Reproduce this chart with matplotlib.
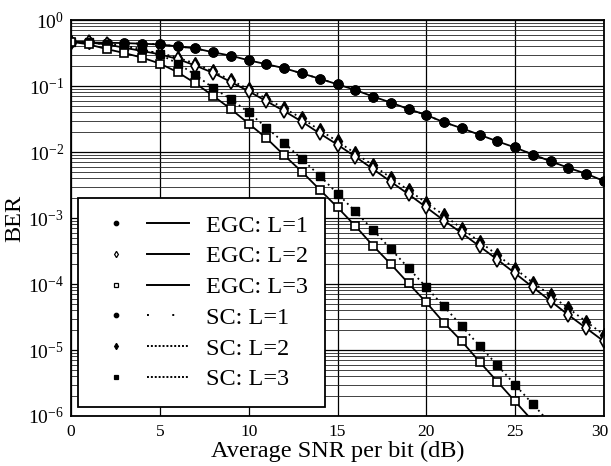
import matplotlib
matplotlib.use("Agg")
import matplotlib.pyplot as plt
import matplotlib.transforms as mtransforms
from matplotlib.lines import Line2D
from matplotlib.legend_handler import HandlerTuple
from matplotlib.ticker import LogLocator, NullFormatter

plt.rcParams['font.family'] = ['Liberation Serif', 'DejaVu Serif']
plt.rcParams['mathtext.fontset'] = 'custom'
plt.rcParams['mathtext.rm'] = 'Liberation Serif'
plt.rcParams['mathtext.it'] = 'Liberation Serif:italic'
plt.rcParams['mathtext.default'] = 'regular'

snr_db = list(range(0, 31))

ber_l1 = [4.68e-1, 4.57e-1, 4.52e-1, 4.47e-1, 4.37e-1, 4.27e-1, 3.98e-1, 3.72e-1,
          3.24e-1, 2.88e-1, 2.45e-1, 2.14e-1, 1.86e-1, 1.55e-1, 1.29e-1, 1.06e-1,
          8.71e-2, 6.92e-2, 5.62e-2, 4.47e-2, 3.63e-2, 2.82e-2, 2.29e-2, 1.82e-2,
          1.45e-2, 1.17e-2, 9.12e-3, 7.24e-3, 5.75e-3, 4.68e-3, 3.63e-3]

ber_egc_l2 = [4.68e-1, 4.57e-1, 4.27e-1, 3.80e-1, 3.39e-1, 3.02e-1, 2.57e-1, 2.04e-1,
              1.58e-1, 1.15e-1, 8.32e-2, 5.89e-2, 4.17e-2, 2.88e-2, 1.91e-2, 1.29e-2,
              8.51e-3, 5.50e-3, 3.55e-3, 2.29e-3, 1.45e-3, 9.12e-4, 5.89e-4, 3.72e-4,
              2.34e-4, 1.45e-4, 8.91e-5, 5.50e-5, 3.39e-5, 2.14e-5, 1.35e-5]

ber_sc_l2 = [4.68e-1, 4.57e-1, 4.27e-1, 3.89e-1, 3.47e-1, 3.16e-1, 2.69e-1, 2.19e-1,
             1.66e-1, 1.23e-1, 8.91e-2, 6.46e-2, 4.57e-2, 3.24e-2, 2.14e-2, 1.45e-2,
             9.55e-3, 6.31e-3, 4.07e-3, 2.63e-3, 1.70e-3, 1.10e-3, 6.92e-4, 4.37e-4,
             2.75e-4, 1.70e-4, 1.05e-4, 6.76e-5, 4.27e-5, 2.69e-5, 1.70e-5]

snr_db_egc_l3 = list(range(0, 27))
ber_egc_l3 = [4.68e-1, 4.27e-1, 3.63e-1, 3.16e-1, 2.69e-1, 2.19e-1, 1.62e-1, 1.10e-1,
              7.08e-2, 4.47e-2, 2.69e-2, 1.62e-2, 8.91e-3, 5.01e-3, 2.69e-3, 1.45e-3,
              7.59e-4, 3.80e-4, 2.00e-4, 1.02e-4, 5.25e-5, 2.57e-5, 1.35e-5, 6.61e-6,
              3.31e-6, 1.66e-6, 8.32e-7]

snr_db_sc_l3 = list(range(0, 28))
ber_sc_l3 = [4.68e-1, 4.57e-1, 4.37e-1, 4.07e-1, 3.63e-1, 3.02e-1, 2.19e-1, 1.48e-1,
             9.33e-2, 6.31e-2, 3.98e-2, 2.34e-2, 1.38e-2, 7.76e-3, 4.37e-3, 2.34e-3,
             1.26e-3, 6.61e-4, 3.39e-4, 1.74e-4, 8.91e-5, 4.57e-5, 2.29e-5, 1.15e-5,
             5.89e-6, 2.95e-6, 1.51e-6, 7.59e-7]

labels = ["EGC: L=1", "EGC: L=2", "EGC: L=3", "SC: L=1", "SC: L=2", "SC: L=3"]
xticks = [0, 5, 10, 15, 20, 25, 30]

fig = plt.figure(figsize=(6.11, 4.66), dpi=100)
ax = fig.add_axes([71/611, 1-416/466, 533/611, 396/466])

ax.set_yscale('log')
ax.set_xlim(0, 30)
ax.set_ylim(1e-6, 1)

# grid
ax.yaxis.set_major_locator(LogLocator(base=10, numticks=10))
ax.yaxis.set_minor_locator(LogLocator(base=10, subs=range(2, 10), numticks=100))
ax.yaxis.set_minor_formatter(NullFormatter())
ax.set_xticks(xticks)
ax.grid(True, which='major', axis='both', color='black', lw=0.9)
ax.grid(True, which='minor', axis='y', color='#222222', lw=0.6)
ax.set_axisbelow(True)

dot_ls = (0, (1, 2))
lw = 1.3
ms = 6.5

# L=1 (identical for EGC and SC)
ax.plot(snr_db, ber_l1, '-', color='k', lw=lw, marker='o', ms=ms, mfc='k', mec='k')
ax.plot(snr_db, ber_l1, ls=(0, (1, 8)), color='k', lw=lw, marker='o', ms=ms, mfc='k', mec='k')
# L=2
ax.plot(snr_db, ber_sc_l2, ls=dot_ls, color='k', lw=lw, marker='d', ms=ms+1, mfc='k', mec='k')
ax.plot(snr_db, ber_egc_l2, '-', color='k', lw=lw, marker='d', ms=ms+1, mfc='white', mec='k', mew=1.2)
# L=3
ax.plot(snr_db_sc_l3, ber_sc_l3, ls=dot_ls, color='k', lw=lw, marker='s', ms=ms-1, mfc='k', mec='k')
ax.plot(snr_db_egc_l3, ber_egc_l3, '-', color='k', lw=lw, marker='s', ms=ms-1, mfc='white', mec='k', mew=1.2)

for s in ax.spines.values():
    s.set_linewidth(1.3)
    s.set_color('k')

ax.tick_params(axis='both', which='both', direction='in', length=0, pad=6)
ax.tick_params(axis='x', labelsize=12.5)
ax.tick_params(axis='y', labelsize=14, pad=5)

# nudge the last x tick label so it stays inside the canvas
last = ax.get_xticklabels()[-1]
last.set_transform(last.get_transform() + mtransforms.ScaledTranslation(-4/100, 0, fig.dpi_scale_trans))

ax.set_xlabel("Average SNR per bit (dB)", fontsize=17.5, labelpad=0)
ax.set_ylabel("BER", fontsize=17.5, labelpad=2)

# legend
specs = [('o', 'k', '-'), ('d', 'white', '-'), ('s', 'white', '-'),
         ('o', 'k', (0, (1, 12))), ('d', 'k', (0, (1, 1))), ('s', 'k', (0, (1, 1)))]
handles = []
for mk, mfc, ls in specs:
    m = Line2D([], [], ls='none', marker=mk, ms=3.2, mfc=mfc, mec='k', mew=0.9)
    l = Line2D([], [], ls=ls, color='k', lw=1.4)
    handles.append((m, l))

leg = ax.legend(handles, labels, handler_map={tuple: HandlerTuple(ndivide=None, pad=0.4)},
                loc='lower left', bbox_to_anchor=(0.013, 0.023), borderaxespad=0,
                fontsize=17.5, numpoints=1, handlelength=3.9, handletextpad=0.7,
                labelspacing=0.36, borderpad=0.68, frameon=True, fancybox=False,
                framealpha=1, edgecolor='k')
leg.get_frame().set_linewidth(1.3)

fig.savefig("out.png", dpi=100)
